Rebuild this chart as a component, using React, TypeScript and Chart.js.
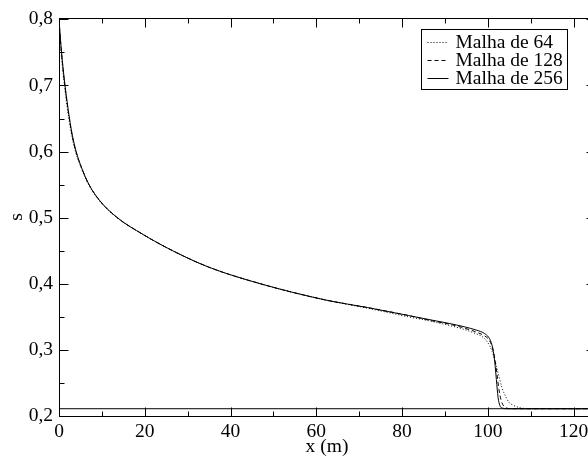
import React, { useEffect, useRef } from 'react';
import { Chart, registerables } from 'chart.js';

Chart.register(...registerables);

// ---- data ----
const seriesLabels = ['Malha de 64', 'Malha de 128', 'Malha de 256'];

const x64 = [0, 0.22, 0.5, 0.85, 1.27, 1.75, 2.3, 2.95, 3.85, 5.2, 6.9, 9.5, 13.5, 19.5, 26.5, 35, 47, 62.5, 72, 81.5, 87, 91, 94.5, 97, 98.7, 100, 101, 102.2, 103.3, 104.2, 104.9, 106, 107.2, 109.5, 125];
const s64 = [0.8, 0.775, 0.75, 0.725, 0.7, 0.675, 0.65, 0.625, 0.6, 0.575, 0.55, 0.525, 0.5, 0.475, 0.45, 0.425, 0.4, 0.375, 0.363, 0.35, 0.343, 0.337, 0.331, 0.325, 0.32, 0.311, 0.298, 0.27, 0.243, 0.229, 0.221, 0.216, 0.213, 0.211, 0.211];

const x128 = [0, 0.26, 0.57, 0.93, 1.36, 1.85, 2.4, 3.05, 3.95, 5.3, 7.0, 9.6, 13.6, 19.5, 26.5, 35, 47, 62.5, 72, 81.5, 87, 91, 94.5, 97.3, 99.3, 100.3, 101, 101.6, 102.1, 102.6, 103.1, 103.7, 104.4, 105.5, 125];
const s128 = [0.8, 0.775, 0.75, 0.725, 0.7, 0.675, 0.65, 0.625, 0.6, 0.575, 0.55, 0.525, 0.5, 0.475, 0.45, 0.425, 0.4, 0.375, 0.364, 0.352, 0.344, 0.339, 0.333, 0.327, 0.321, 0.315, 0.305, 0.288, 0.265, 0.24, 0.224, 0.215, 0.212, 0.211, 0.211];

const x256 = [0, 0.28, 0.6, 0.97, 1.4, 1.9, 2.45, 3.1, 4.0, 5.3, 7.0, 9.6, 13.6, 19.5, 26.5, 35, 47, 62.5, 72, 81.5, 87, 91, 94.5, 97.3, 99.2, 100.2, 100.8, 101.2, 101.6, 102, 102.4, 102.8, 103.4, 104.5, 125];
const s256 = [0.8, 0.775, 0.75, 0.725, 0.7, 0.675, 0.65, 0.625, 0.6, 0.575, 0.55, 0.525, 0.5, 0.475, 0.45, 0.425, 0.4, 0.375, 0.364, 0.352, 0.345, 0.34, 0.335, 0.33, 0.325, 0.319, 0.311, 0.301, 0.283, 0.255, 0.228, 0.216, 0.212, 0.211, 0.211];

const xBase = [0, 125];
const sBase = [0.211, 0.211];

const xTickValues = [0, 20, 40, 60, 80, 100, 120];
const yTickValues = [0.2, 0.3, 0.4, 0.5, 0.6, 0.7, 0.8];

const xMin = 0;
const xMax = 125;
const xMinorStep = 10;
const yMin = 0.2;
const yMax = 0.8025;
const yMinorStep = 0.05;

const FONT = "'Liberation Serif', 'Times New Roman', serif";
const FSIZE = 19.5;

function toPoints(xs: number[], ys: number[]) {
  return xs.map((x, i) => ({ x, y: ys[i] }));
}

const framePlugin = {
  id: 'frame',
  afterDatasetsDraw(chart: any) {
    const { ctx, chartArea, scales } = chart;
    const { left, right, top, bottom } = chartArea;
    const xs = scales.x;
    const ys = scales.y;
    ctx.save();
    ctx.strokeStyle = '#000';
    ctx.lineWidth = 1;
    ctx.setLineDash([]);
    const L = Math.round(left) + 0.5;
    const R = Math.round(right) + 0.5;
    const T = Math.round(top) + 0.5;
    const B = Math.round(bottom) + 0.5;
    ctx.strokeRect(L, T, R - L, B - T);
    ctx.beginPath();
    const nx = Math.round((xMax - xMin) / xMinorStep);
    for (let i = 0; i <= nx; i++) {
      const v = xMin + i * xMinorStep;
      if (v > xMax) break;
      const px = Math.round(xs.getPixelForValue(v)) + 0.5;
      const len = i % 2 === 0 ? 9 : 5;
      ctx.moveTo(px, B); ctx.lineTo(px, B - len);
      ctx.moveTo(px, T); ctx.lineTo(px, T + len);
    }
    const ny = 12;
    for (let i = 0; i <= ny; i++) {
      const v = yMin + i * yMinorStep;
      const py = Math.round(ys.getPixelForValue(v)) + 0.5;
      const len = i % 2 === 0 ? 9 : 5;
      ctx.moveTo(L, py); ctx.lineTo(L + len, py);
      ctx.moveTo(R, py); ctx.lineTo(R - len, py);
    }
    ctx.stroke();

    // legend
    const bx = 421.5, by = 29.5, bw = 146, bh = 60;
    ctx.fillStyle = '#fff';
    ctx.fillRect(bx, by, bw, bh);
    ctx.strokeRect(bx, by, bw, bh);
    ctx.font = `${FSIZE}px ${FONT}`;
    ctx.textBaseline = 'middle';
    ctx.textAlign = 'left';
    ctx.fillStyle = '#000';
    const dsets = chart.data.datasets.filter((d: any) => d.label);
    dsets.forEach((d: any, i: number) => {
      const yy = Math.round(by + 12 + i * 18.3) + 0.5;
      ctx.beginPath();
      ctx.setLineDash(d.borderDash || []);
      ctx.moveTo(bx + 6, yy);
      ctx.lineTo(bx + 27, yy);
      ctx.stroke();
      ctx.setLineDash([]);
      ctx.fillText(d.label, bx + 34, yy + 0.5);
    });
    ctx.restore();
  },
};

export default function App() {
  const ref = useRef<HTMLCanvasElement | null>(null);
  useEffect(() => {
    document.body.style.margin = '0';
    const canvas = ref.current!;
    const common = { borderColor: '#000', borderWidth: 1, pointRadius: 0, cubicInterpolationMode: 'monotone' };
    const chart = new Chart(canvas, {
      type: 'line',
      data: {
        datasets: [
          { ...common, label: '', data: toPoints(xBase, sBase) },
          { ...common, label: seriesLabels[0], data: toPoints(x64, s64), borderDash: [1, 2] },
          { ...common, label: seriesLabels[1], data: toPoints(x128, s128), borderDash: [4, 3] },
          { ...common, label: seriesLabels[2], data: toPoints(x256, s256) },
        ],
      } as any,
      options: {
        responsive: false,
        animation: false,
        devicePixelRatio: 1,
        layout: { padding: { left: 0, top: 14, right: 25, bottom: 0 } },
        plugins: { legend: { display: false }, tooltip: { enabled: false } },
        scales: {
          x: {
            type: 'linear',
            min: xMin,
            max: xMax,
            grid: { display: false, drawTicks: false },
            border: { display: false },
            afterBuildTicks: (s: any) => { s.ticks = xTickValues.map((v) => ({ value: v })); },
            ticks: {
              padding: 4,
              color: '#000',
              font: { family: FONT, size: FSIZE },
              maxRotation: 0,
              autoSkip: false,
              callback: (v: any) => String(v),
            },
            title: { display: true, text: 'x (m)', color: '#000', font: { family: FONT, size: FSIZE }, padding: 0 },
            afterFit: (s: any) => { s.height = 43; },
          },
          y: {
            type: 'linear',
            min: yMin,
            max: yMax,
            grid: { display: false, drawTicks: false },
            border: { display: false },
            afterBuildTicks: (s: any) => { s.ticks = yTickValues.map((v) => ({ value: v })); },
            ticks: {
              padding: 6,
              color: '#000',
              autoSkip: false,
              font: { family: FONT, size: FSIZE },
              callback: (v: any) => Number(v).toFixed(1).replace('.', ','),
            },
            title: { display: true, text: 's', color: '#000', font: { family: FONT, size: FSIZE }, padding: { top: 5, bottom: 0 } },
            afterFit: (s: any) => { s.width = 59; },
          },
        },
      } as any,
      plugins: [framePlugin],
    });
    return () => chart.destroy();
  }, []);
  return (
    <div style={{ position: 'fixed', left: 0, top: 0, width: 588, height: 459, overflow: 'hidden', background: '#fff' }}>
      <canvas ref={ref} width={620} height={459} style={{ display: 'block' }} />
    </div>
  );
}
